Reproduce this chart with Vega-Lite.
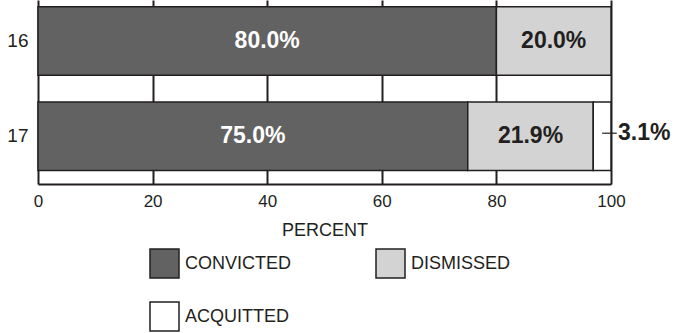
{
  "$schema": "https://vega.github.io/schema/vega-lite/v6.json",
  "width": 573,
  "height": 184,
  "autosize": "none",
  "padding": {"left": 38, "top": 0, "right": 68, "bottom": 149},
  "background": "white",
  "config": {"font": "Liberation Sans", "view": {"stroke": null}},
  "data": {
    "values": [
      {"year": "16", "status": "CONVICTED", "pct": 80.0, "ord": 1, "label": "80.0%"},
      {"year": "16", "status": "DISMISSED", "pct": 20.0, "ord": 2, "label": "20.0%"},
      {"year": "17", "status": "CONVICTED", "pct": 75.0, "ord": 1, "label": "75.0%"},
      {"year": "17", "status": "DISMISSED", "pct": 21.9, "ord": 2, "label": "21.9%"},
      {"year": "17", "status": "ACQUITTED", "pct": 3.1, "ord": 3, "label": "3.1%"}
    ]
  },
  "transform": [
    {"stack": "pct", "groupby": ["year"], "sort": [{"field": "ord"}], "as": ["x0", "x1"]},
    {"calculate": "(datum.x0 + datum.x1) / 2", "as": "mid"}
  ],
  "encoding": {
    "y": {
      "field": "year", "type": "nominal",
      "scale": {"paddingInner": 0.281, "paddingOuter": 0.106, "align": 0.33},
      "axis": {"title": null, "domain": false, "ticks": false, "labelFontSize": 19, "labelColor": "#231f20", "labelPadding": 10, "labelFont": "Liberation Sans"}
    }
  },
  "layer": [
    {
      "mark": {"type": "bar", "stroke": "#231f20", "strokeWidth": 1.5},
      "encoding": {
        "x": {
          "field": "x0", "type": "quantitative",
          "scale": {"domain": [0, 100], "nice": false},
          "axis": {
            "values": [0, 20, 40, 60, 80, 100],
            "title": "PERCENT", "titleFontSize": 18, "titleFontWeight": "normal", "titleColor": "#231f20", "titlePadding": 12,
            "labelFontSize": 17, "labelColor": "#231f20", "labelPadding": 9, "labelFlush": false,
            "ticks": false, "domainColor": "#231f20", "domainWidth": 2,
            "grid": true, "gridColor": "#231f20", "gridWidth": 2, "gridOpacity": 1
          }
        },
        "x2": {"field": "x1"},
        "fill": {
          "field": "status", "type": "nominal",
          "scale": {"domain": ["CONVICTED", "DISMISSED", "ACQUITTED"], "range": ["#626262", "#d3d3d3", "#ffffff"]},
          "legend": {
            "title": null, "orient": "none", "legendX": 111, "legendY": 248, "direction": "horizontal",
            "columns": 2, "symbolType": "square", "symbolSize": 841,
            "symbolStrokeColor": "#231f20", "symbolStrokeWidth": 1.5, "symbolOpacity": 1,
            "labelFontSize": 18, "labelColor": "#231f20", "labelOffset": 5,
            "rowPadding": 18, "columnPadding": 81
          }
        }
      }
    },
    {
      "transform": [{"filter": "datum.status === 'CONVICTED'"}],
      "mark": {"type": "text", "fontSize": 23, "fontWeight": "bold", "color": "white", "baseline": "middle"},
      "encoding": {"x": {"field": "mid", "type": "quantitative"}, "text": {"field": "label"}}
    },
    {
      "transform": [{"filter": "datum.status === 'DISMISSED'"}],
      "mark": {"type": "text", "fontSize": 23, "fontWeight": "bold", "color": "#231f20", "baseline": "middle"},
      "encoding": {"x": {"field": "mid", "type": "quantitative"}, "text": {"field": "label"}}
    },
    {
      "transform": [{"filter": "datum.status === 'ACQUITTED'"}],
      "mark": {"type": "rule", "color": "#231f20", "strokeWidth": 1.2, "yOffset": -3},
      "encoding": {"x": {"field": "mid", "type": "quantitative"}, "x2": {"datum": 101}}
    },
    {
      "transform": [{"filter": "datum.status === 'ACQUITTED'"}],
      "mark": {"type": "text", "fontSize": 23, "fontWeight": "bold", "color": "#231f20", "baseline": "middle", "align": "left", "dx": 7, "dy": -3},
      "encoding": {"x": {"field": "x1", "type": "quantitative"}, "text": {"field": "label"}}
    }
  ]
}
